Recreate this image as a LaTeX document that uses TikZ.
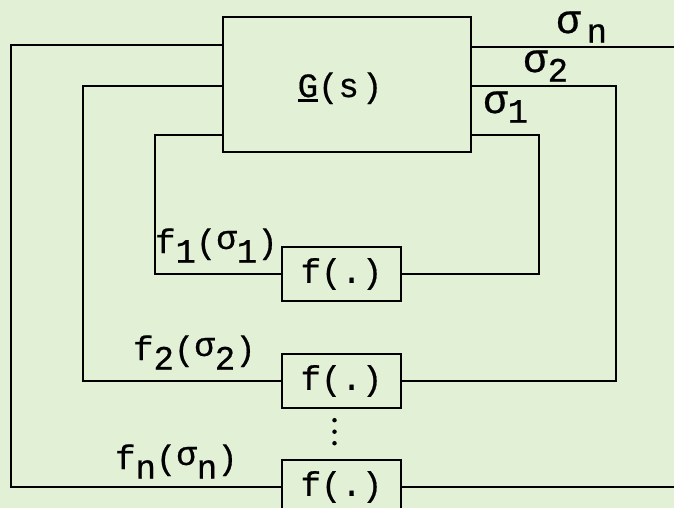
\documentclass[tikz,border=0pt]{standalone}
\usepackage{fontspec}
\newfontfamily\tw{Liberation Mono}[FakeBold=0.6]
\usetikzlibrary{calc}
\definecolor{paper}{RGB}{226,240,213}
\newcommand{\lo}[1]{\raisebox{-0.28em}{#1}}
\newcommand{\sg}{\scalebox{1.2}{σ}}
\newcommand{\hi}[1]{\raisebox{0.12em}{#1}}
\newcommand{\ulG}{\makebox[0pt][l]{\rule[-5pt]{0.6em}{2.5pt}}G}
\begin{document}
\begin{tikzpicture}[x=1pt,y=-1pt, line width=2.4pt,
  font=\tw\fontsize{34}{40}\selectfont,
  blk/.style={draw, rectangle, inner sep=0pt, minimum width=119pt, minimum height=54pt},
  lbl/.style={inner sep=0pt, anchor=base west},
  dotline/.style={line width=4.5pt, line cap=round, dash pattern=on 0pt off 11.5pt}]
\fill[paper] (0,0) rectangle (674,508);
\useasboundingbox (0,0) rectangle (674,508);

% blocks
\node[draw, rectangle, inner sep=0pt, minimum width=248pt, minimum height=135pt] (G) at (347,84.5) {};
\node[inner sep=0pt, anchor=base] (Gl) at (340,97) {\ulG(s\kern3pt)};
\node[blk] (f1) at (341.5,274) {f(.)};
\node[blk] (f2) at (341.5,381) {f(.)};
\node[blk] (fn) at (341.5,487) {f(.)};

% corner coordinates
\coordinate (l1) at (155,135);
\coordinate (r1) at (539,135);
\coordinate (l2) at (83,86);
\coordinate (r2) at (616,86);
\coordinate (ln) at (11,45);
\coordinate (rn) at (690,47);
\coordinate (bn) at (690,487);

% loop 1
\draw (G.west |- l1) -- (l1) |- (f1.west);
\draw (G.east |- r1) -- (r1) |- (f1.east);
% loop 2
\draw (G.west |- l2) -- (l2) |- (f2.west);
\draw (G.east |- r2) -- (r2) |- (f2.east);
% loop n
\draw (G.west |- ln) -- (ln) |- (fn.west);
\draw (G.east |- rn) -- (rn);
\draw (fn.east) -- (bn);

% dots between f2 and fn
\path (f2.south) ++(-7,11) coordinate (d1);
\path (fn.north) ++(-7,-7) coordinate (d2);
\draw[dotline] (d1) -- (d2);

% labels
\node[lbl] (sn) at (555,33) {\sg\kern6pt\lo{n}};
\node[lbl] (s2) at (522,72) {\sg\lo{2}};
\node[lbl] (s1) at (482,113) {\sg\lo{1}};
\node[lbl] (t1) at (154,253) {f\lo{1}(\hi{σ}\lo{1})};
\node[lbl] (t2) at (132,360) {f\lo{2}(\hi{σ}\lo{2})};
\node[lbl] (tn) at (114,469) {f\lo{n}(\hi{σ}\lo{n})};
\end{tikzpicture}
\end{document}
